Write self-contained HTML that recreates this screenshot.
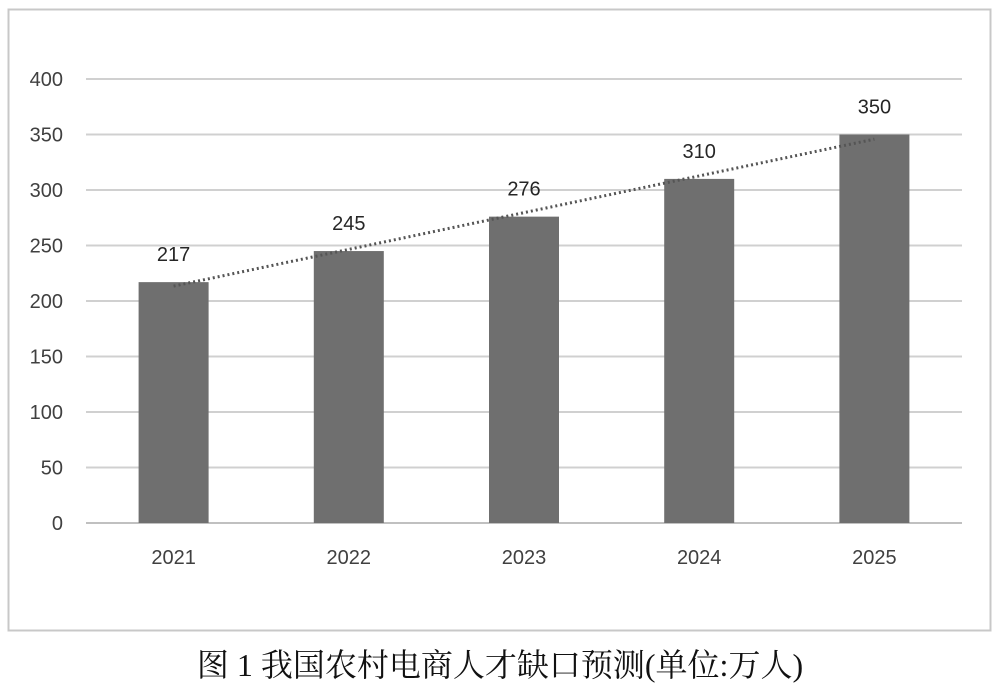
<!DOCTYPE html>
<html><head><meta charset="utf-8"><style>
body{margin:0;background:#fff;width:1000px;height:689px;overflow:hidden}
svg{display:block}
</style></head><body>
<svg width="1000" height="689">
<rect x="8.5" y="9.5" width="982" height="621" fill="#fff" stroke="#c8c8c8" stroke-width="2"/>
<g id="grid"></g>
<g id="yt"></g>
<g id="bars"></g>
<g id="xt"></g>
<text x="500" y="676" text-anchor="middle" font-family="'Liberation Serif','Noto Serif CJK SC',serif" font-size="32" fill="#111">图 1 我国农村电商人才缺口预测(单位:万人)</text>
</svg>
<script>
const categories=["2021","2022","2023","2024","2025"];
const values=[217,245,276,310,350];
const yTicks=[0,50,100,150,200,250,300,350,400];
const NS="http://www.w3.org/2000/svg";
const x0=86,x1=962,yBase=523,yTop=79,yMax=400;
const yS=v=>yBase-(v/yMax)*(yBase-yTop);
const bw=(x1-x0)/categories.length;
const xC=i=>x0+bw*(i+0.5);
function mk(t,a,p){const e=document.createElementNS(NS,t);for(const k in a)e.setAttribute(k,a[k]);p.appendChild(e);return e;}
const font="'Liberation Sans','DejaVu Sans',sans-serif";
yTicks.forEach(v=>{
 const l=mk('line',{x1:x0,x2:x1,y1:yS(v),y2:yS(v),stroke:v===0?'#c0c0c0':'#d0d0d0','stroke-width':2},document.getElementById('grid'));
 
 
 const t=mk('text',{x:63,y:yS(v)+7,'text-anchor':'end','font-family':font,'font-size':20,fill:'#404040'},document.getElementById('yt'));
 t.textContent=v;
 
 
});
categories.forEach((c,i)=>{
 const b=mk('rect',{x:xC(i)-35,y:yS(values[i]),width:70,height:yBase-yS(values[i]),fill:'#6f6f6f'},document.getElementById('bars'));
 
 
 const lb=mk('text',{x:xC(i),y:yS(values[i])-21,'text-anchor':'middle','font-family':font,'font-size':20,fill:'#262626'},document.getElementById('bars'));
 lb.textContent=values[i];
 
 
 const t=mk('text',{x:xC(i),y:564,'text-anchor':'middle','font-family':font,'font-size':20,fill:'#404040'},document.getElementById('xt'));
 t.textContent=c;
 
 
});
// linear trendline
const n=values.length,mx=(n-1)/2,my=values.reduce((a,b)=>a+b,0)/n;
let num=0,den=0;values.forEach((v,i)=>{num+=(i-mx)*(v-my);den+=(i-mx)*(i-mx);});
const slope=num/den,ic=my-slope*mx;
const tl=mk('line',{x1:xC(0),y1:yS(ic),x2:xC(n-1),y2:yS(ic+slope*(n-1)),stroke:'#555','stroke-width':3,'stroke-dasharray':'2 3'},document.querySelector('svg'));


</script>
</body></html>
